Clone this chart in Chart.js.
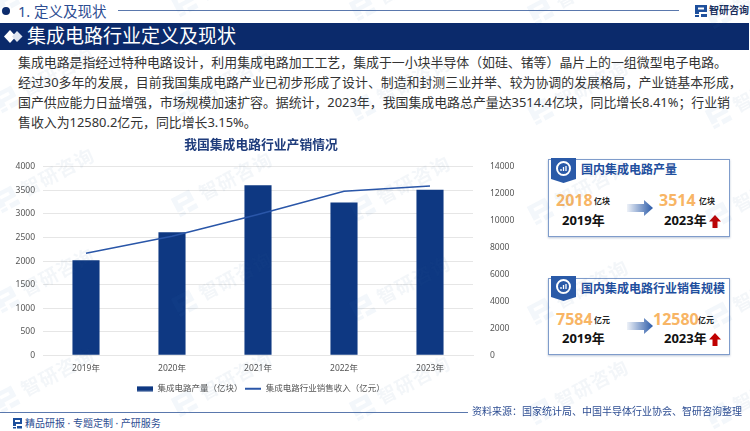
<!DOCTYPE html>
<html lang="zh-CN">
<head>
<meta charset="utf-8">
<title>集成电路行业定义及现状</title>
<script src="https://cdn.jsdelivr.net/npm/chart.js@4/dist/chart.umd.js"></script>
<style>
  * { margin: 0; padding: 0; box-sizing: border-box; }
  html, body { width: 750px; height: 431px; overflow: hidden; background: #fff; }
  body { position: relative; font-family: "Noto Sans", "Noto Sans CJK SC", sans-serif; }
  .abs { position: absolute; white-space: nowrap; line-height: 1; }
  #chartBox { position: absolute; left: 0; top: 135px; width: 522px; height: 272px; }
  .rule { position: absolute; background: #5a78ad; height: 1px; }
  #banner { position: absolute; left: 0; top: 23px; width: 749px; height: 27px; background: #0b2a6b; }
  #intro { position: absolute; left: 18px; top: 52px; font-size: 12.9px; line-height: 20px; color: #333; white-space: nowrap; }
  .card { position: absolute; left: 548px; width: 182px; border: 1px solid #7f9ccb; box-shadow: 0 1px 2px rgba(60,90,140,.35); background: #fff; }
  .num { color: #f8b565; font-weight: 700; font-size: 16px; }
  .unit { color: #222; font-weight: 700; font-size: 8px; }
  .year { color: #111; font-weight: 700; font-size: 13px; }
  .cardTitle { color: #1f4f9e; font-weight: 700; font-size: 12px; }
  #marks { position: absolute; inset: 0; pointer-events: none; z-index: 5; }
  .mark { position: absolute; display: flex; align-items: center; gap: 6px; color: rgba(50,100,160,.06); font-size: 19px; font-weight: 700; letter-spacing: 1px;
          transform: rotate(-28deg); transform-origin: left center; white-space: nowrap; line-height: 1; }
  .mark svg { fill: rgba(50,120,190,.06); }
</style>
</head>
<body>

<!-- header -->
<svg class="abs" style="left:1px;top:6px" width="10" height="10"><circle cx="5" cy="5" r="4" fill="#0b2a6b"/></svg>
<div class="abs" style="left:18px;top:4px;font-size:14.5px;color:#2d4d92">1. 定义及现状</div>
<div class="rule" style="left:118px;top:10px;width:561px"></div>
<svg class="abs" style="left:694px;top:4px" width="14" height="14"><path d="M1 1h12v7H5v2H1zM4 3.5v2h6v-2zM1 11h4v2H1zM7 10h6v3H7z" fill="#1d4f9c"/></svg>
<div class="abs" style="left:709px;top:5px;font-size:10px;font-weight:700;color:#1b2f5c">智研咨询</div>

<div id="banner"></div>
<svg class="abs" style="left:4px;top:30px" width="20" height="13"><path d="M6 0l6 6.500-6 6.500-6-6.500z" fill="#fff"/><path d="M13 1l5.500 5.500L13 12l-5-5.500z" fill="#dfe5f0"/></svg>
<div class="abs" style="left:27px;top:27px;font-size:19px;color:#fff">集成电路行业定义及现状</div>

<div id="intro">
  集成电路是指经过特种电路设计，利用集成电路加工工艺，集成于一小块半导体（如硅、锗等）晶片上的一组微型电子电路。<br>
  经过30多年的发展，目前我国集成电路产业已初步形成了设计、制造和封测三业并举、较为协调的发展格局，产业链基本形成，<br>
  国产供应能力日益增强，市场规模加速扩容。据统计，2023年，我国集成电路总产量达3514.4亿块，同比增长8.41%；行业销<br>
  售收入为12580.2亿元，同比增长3.15%。
</div>

<!-- chart -->
<div id="chartBox"><canvas id="mainChart" width="522" height="272"></canvas></div>

<!-- card 1 -->
<div class="card" style="top:159px;height:78px"></div>
<svg class="abs" style="left:551px;top:158px" width="25" height="25"><path d="M0 0h25v21l-12.500 4L0 21z" fill="#2a5aa8"/><circle cx="12.500" cy="10.500" r="6.500" fill="none" stroke="#fff" stroke-width="2"/><path d="M10 13v-2M12.500 13v-4M15 13V8" stroke="#fff" stroke-width="1.300"/></svg>
<div class="abs cardTitle" style="left:581px;top:164px">国内集成电路产量</div>
<div class="abs num" style="left:556px;top:192px">2018</div>
<div class="abs unit" style="left:594px;top:197px">亿块</div>
<div class="abs year" style="left:562px;top:214px">2019年</div>
<svg class="abs" style="left:627px;top:198px" width="26" height="20"><defs><linearGradient id="ga"><stop offset="0" stop-color="#2a5aa8" stop-opacity=".08"/><stop offset="1" stop-color="#2a5aa8"/></linearGradient></defs><path d="M0 4h17V0l9 8-9 8v-4H0z" fill="url(#ga)" transform="translate(0 2)"/></svg>
<div class="abs num" style="left:659px;top:192px">3514</div>
<div class="abs unit" style="left:699px;top:197px">亿块</div>
<div class="abs year" style="left:664px;top:214px">2023年</div>
<svg class="abs" style="left:709px;top:215px" width="12" height="13"><path d="M6 0l6 6.500H8.500V13h-5V6.500H0z" fill="#c00000"/></svg>

<!-- card 2 -->
<div class="card" style="top:278px;height:77px"></div>
<svg class="abs" style="left:551px;top:276px" width="25" height="25"><path d="M0 0h25v21l-12.500 4L0 21z" fill="#2a5aa8"/><circle cx="12.500" cy="10.500" r="6.500" fill="none" stroke="#fff" stroke-width="2"/><path d="M10 13v-2M12.500 13v-4M15 13V8" stroke="#fff" stroke-width="1.300"/></svg>
<div class="abs cardTitle" style="left:581px;top:283px">国内集成电路行业销售规模</div>
<div class="abs num" style="left:556px;top:311px">7584</div>
<div class="abs unit" style="left:594px;top:316px">亿元</div>
<div class="abs year" style="left:562px;top:332px">2019年</div>
<svg class="abs" style="left:627px;top:316px" width="26" height="20"><path d="M0 4h17V0l9 8-9 8v-4H0z" fill="url(#ga)" transform="translate(0 2)"/></svg>
<div class="abs num" style="left:653px;top:311px">12580</div>
<div class="abs unit" style="left:698px;top:316px">亿元</div>
<div class="abs year" style="left:664px;top:332px">2023年</div>
<svg class="abs" style="left:709px;top:333px" width="12" height="13"><path d="M6 0l6 6.500H8.500V13h-5V6.500H0z" fill="#c00000"/></svg>

<!-- footer -->
<div class="rule" style="left:0;top:412px;width:468px"></div>
<div class="abs" style="left:472px;top:406px;font-size:10px;color:#2d4d92">资料来源：国家统计局、中国半导体行业协会、智研咨询整理</div>
<svg class="abs" style="left:12px;top:417px" width="11" height="12"><path d="M1 1h9v6H4v2H1zM3 3v2h5V3zM1 10h3v1.500H1zM5 9h5v2.500H5z" fill="#1d4f9c"/></svg>
<div class="abs" style="left:25px;top:418px;font-size:10px;color:#2d4d92">精品研报 · 专题定制 · 产研服务</div>

<div id="marks"></div>

<script>
'use strict';

// ── Data ────────────────────────────────────────────────────────────────────
const YEARS = ['2019年', '2020年', '2021年', '2022年', '2023年'];
const OUTPUT = [2018, 2614, 3608, 3241, 3514];      // 集成电路产量（亿块）
const REVENUE = [7584, 8848, 10458, 12195, 12580];  // 销售收入（亿元）
const OUTPUT_LABEL = '集成电路产量（亿块）';
const REVENUE_LABEL = '集成电路行业销售收入（亿元）';
const CHART_TITLE = '我国集成电路行业产销情况';

const NAVY = '#0e3882';
const LINE_BLUE = '#2a56a8';
const GRID = '#e6e6e6';
const TICK = '#555555';
const FONT = '"Noto Sans", "Noto Sans CJK SC", sans-serif';

// legend swatches: wide bar and thin line
function swatch(h, color) {
  const c = document.createElement('canvas');
  c.width = 16; c.height = 6;
  const g = c.getContext('2d');
  g.fillStyle = color;
  g.fillRect(0, (6 - h) / 2, 16, h);
  return c;
}

// ── Watermark ───────────────────────────────────────────────────────────────
const LOGO = '<svg width="24" height="24" viewBox="0 0 14 14"><path d="M1 1h12v7H5v2H1zM4 3.500v2h6v-2zM1 11h4v2H1zM7 10h6v3H7z"/></svg>';
const marks = document.getElementById('marks');
for (let col = 0; col < 5; col++) {
  for (let row = 0; row < 5; row++) {
    const el = document.createElement('div');
    el.className = 'mark';
    el.innerHTML = LOGO + '<span>智研咨询</span>';
    el.style.left = (-4 + col * 178) + 'px';
    el.style.top = (-7 + row * 100 + col * 4) + 'px';
    marks.appendChild(el);
  }
}

// ── Chart ───────────────────────────────────────────────────────────────────
new Chart(document.getElementById('mainChart'), {
  data: {
    labels: YEARS,
    datasets: [
      {
        type: 'line',
        label: REVENUE_LABEL,
        data: REVENUE,
        yAxisID: 'y1',
        borderColor: LINE_BLUE,
        borderWidth: 1.5,
        pointRadius: 0,
        tension: 0,
        order: 1,
      },
      {
        type: 'bar',
        label: OUTPUT_LABEL,
        data: OUTPUT,
        yAxisID: 'y',
        backgroundColor: NAVY,
        barPercentage: 0.315,
        categoryPercentage: 1,
        order: 2,
      },
    ],
  },
  options: {
    responsive: false,
    animation: false,
    layout: { padding: { top: 0, bottom: 4, left: 0, right: 0 } },
    plugins: {
      title: {
        display: true,
        text: CHART_TITLE,
        color: '#1f3c7c',
        font: { family: FONT, size: 12.8, weight: 'bold' },
        padding: { top: 3, bottom: 13.5 },
      },
      legend: {
        position: 'bottom',
        reverse: true,
        labels: {
          color: TICK,
          font: { family: FONT, size: 8.5 },
          usePointStyle: true,
          pointStyleWidth: 16,
          padding: 3,
          generateLabels(chart) {
            return Chart.defaults.plugins.legend.labels.generateLabels(chart).map(item => {
              item.pointStyle = item.datasetIndex === 1 ? swatch(5, NAVY) : swatch(2, LINE_BLUE);
              return item;
            });
          },
        },
      },
    },
    scales: {
      x: {
        grid: { display: false, drawTicks: false },
        border: { color: GRID },
        ticks: { color: TICK, font: { family: FONT, size: 8.5 }, padding: 8, maxRotation: 0 },
      },
      y: {
        position: 'left',
        min: 0,
        max: 4000,
        afterFit(scale) { scale.width = 43; },
        grid: { color: GRID, drawTicks: false },
        border: { display: false },
        ticks: { stepSize: 500, color: TICK, font: { family: FONT, size: 8.5 }, padding: 8, callback: v => String(v) },
      },
      y1: {
        position: 'right',
        min: 0,
        max: 14000,
        afterFit(scale) { scale.width = 49; },
        grid: { display: false },
        border: { display: false },
        ticks: { stepSize: 2000, color: TICK, font: { family: FONT, size: 8.5 }, padding: 9, callback: v => String(v) },
      },
    },
  },
});
</script>
</body>
</html>
